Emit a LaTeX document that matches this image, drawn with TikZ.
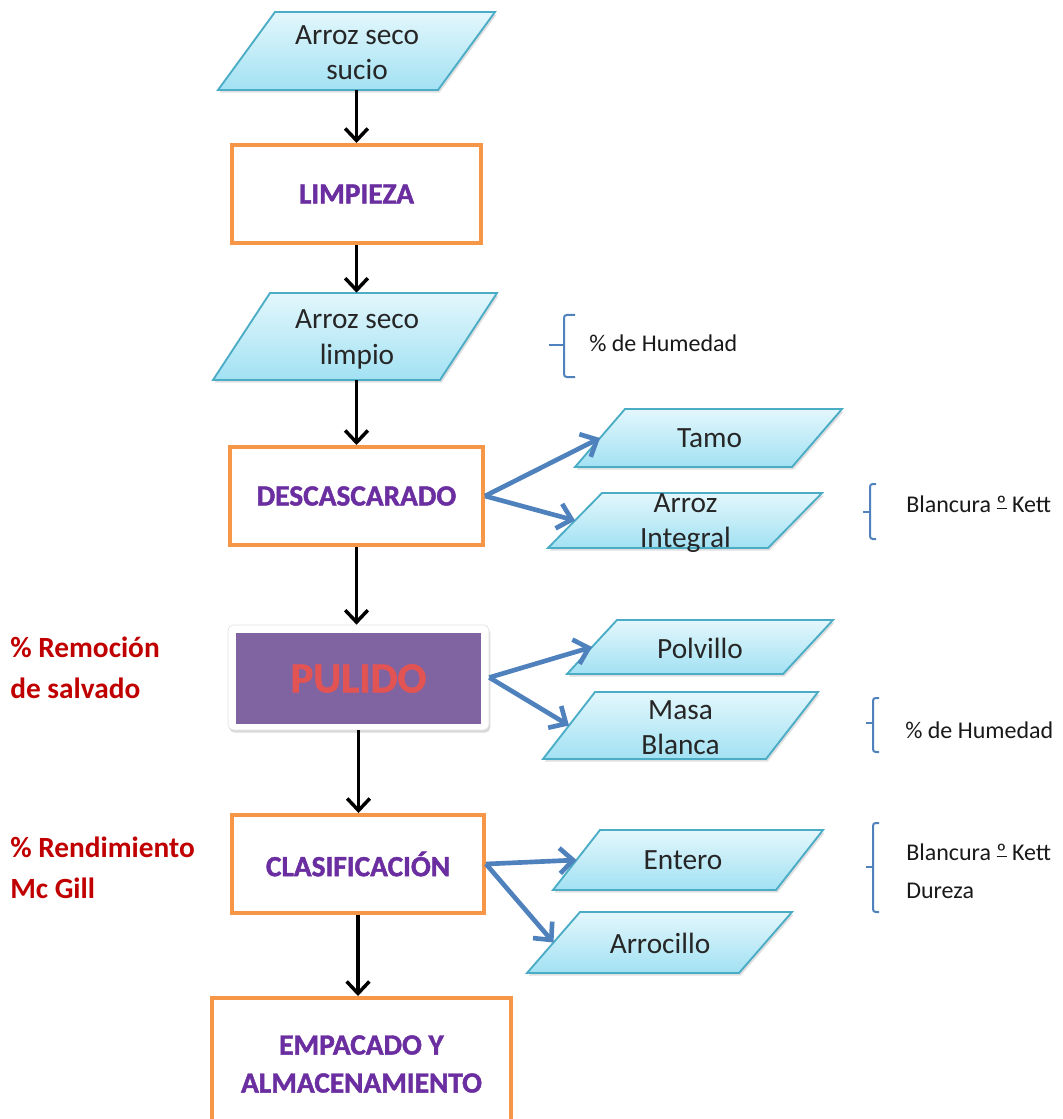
\documentclass[tikz,border=0pt]{standalone}
\usepackage{fontspec}
\setmainfont{Carlito}
\newfontfamily\titlefont{Carlito}[BoldFeatures={FakeBold=1.5}]
\usetikzlibrary{arrows.meta,shadows}
\definecolor{parab}{HTML}{4BACC6}
\definecolor{paratop}{HTML}{E3F7FC}
\definecolor{parabot}{HTML}{A2E1F3}
\definecolor{orangeB}{HTML}{F79646}
\definecolor{blueA}{HTML}{4F81BD}
\definecolor{purpT}{HTML}{6A2EA0}
\definecolor{purpF}{HTML}{8064A2}
\definecolor{redT}{HTML}{C00000}
\definecolor{pulR}{HTML}{E25454}
% ordinal indicator with underline, as in Calibri
\newcommand\ordo{\setbox0\hbox{º}\ooalign{\copy0\cr\raisebox{0.12em}{\rule{\wd0}{0.055em}}}}
% #1 name, #2 cx, #3 cy, #4 total width, #5 height, #6 slant offset (pixels)
\newcommand\paraNode[6]{%
  \path[parashape] ({#2-#4/2},{#3+#5/2}) -- ({#2+#4/2-#6},{#3+#5/2})
     -- ({#2+#4/2},{#3-#5/2}) -- ({#2-#4/2+#6},{#3-#5/2}) -- cycle;
  \node[inner sep=0pt, minimum width={(#4-#6)*0.75pt}, minimum height={#5*0.75pt}] (#1) at (#2,#3) {};
  \coordinate (#1-l) at ({#2-#4/2+#6/2},#3);
}
\begin{document}
\begin{tikzpicture}[x=0.75pt,y=-0.75pt,
  parashape/.style={draw=parab, line width=1.4pt, top color=paratop, bottom color=parabot,
    drop shadow={opacity=0.25, shadow xshift=1.2pt, shadow yshift=-2pt}},
  ptext/.style={font=\fontsize{22}{26.4}\selectfont, align=center, inner sep=0pt, text=black!85},
  proc/.style={rectangle, draw=orangeB, line width=3pt, fill=white, align=center,
    font=\fontsize{22}{28.5}\selectfont\titlefont\bfseries, text=purpT},
  barrow/.style={line width=2.6pt, -{Straight Barb[length=9pt,width=17pt]}},
  blarrow/.style={draw=blueA, line width=3.5pt, -{Straight Barb[length=10pt,width=19pt]}},
  note/.style={font=\fontsize{18}{28.5}\selectfont, anchor=west, align=left, inner sep=0pt, text=black!90},
  rednote/.style={font=\fontsize{22}{31}\selectfont\bfseries, text=redT, anchor=west, align=left, inner sep=0pt},
  bracestyle/.style={draw=blueA, line width=1.5pt, rounded corners=2pt}
]
\useasboundingbox (0,0) rectangle (1062,1119);
\clip (0,0) rectangle (1062,1119);

% main column
\paraNode{sucio}{356.5}{51}{277}{78}{57}
\node[ptext] (sucioT) at (357,52.5) {Arroz seco\\sucio};

\node[proc, minimum width=249*0.75pt, minimum height=98*0.75pt] (limpieza) at (356.5,194) {LIMPIEZA};

\paraNode{limpio}{355}{336.5}{284}{87}{57}
\node[ptext] (limpioT) at (357,339.5) {Arroz seco\\limpio};

\node[proc, minimum width=253*0.75pt, minimum height=98*0.75pt] (desc) at (356.5,496) {DESCASCARADO};

\node[rectangle, fill=white, draw=black!12, line width=0.5pt, rounded corners=4pt,
  minimum width=261*0.75pt, minimum height=105*0.75pt,
  drop shadow={opacity=0.3, shadow xshift=1pt, shadow yshift=-2pt}] (pulidoF) at (358.5,677.5) {};
\node[rectangle, fill=purpF, minimum width=245*0.75pt, minimum height=91*0.75pt,
  font=\fontsize{32}{38}\selectfont\titlefont\bfseries, text=pulR] (pulido) at (358.5,678.5) {PULIDO};

\node[proc, minimum width=252*0.75pt, minimum height=98*0.75pt] (clasif) at (358,864) {CLASIFICACIÓN};

\node[proc, minimum width=299*0.75pt, minimum height=132*0.75pt] (empacado) at (361.5,1064) {EMPACADO Y\\ALMACENAMIENTO};

% side outputs
\paraNode{tamo}{708.5}{438}{267}{58}{50}
\node[ptext] (tamoT) at (709.5,438) {Tamo};

\paraNode{integral}{685}{520.5}{274}{55}{54}
\node[ptext] (integralT) at (685.5,523.5) {Arroz\\Integral};

\paraNode{polvillo}{700}{647}{266}{54}{50}
\node[ptext] (polvilloT) at (700,648) {Polvillo};

\paraNode{masa}{680.5}{725.5}{275}{67}{52}
\node[ptext] (masaT) at (680.5,727.5) {Masa\\Blanca};

\paraNode{entero}{688}{860}{270}{60}{47}
\node[ptext] (enteroT) at (683,860) {Entero};

\paraNode{arrocillo}{659.5}{942.5}{265}{61}{53}
\node[ptext] (arrocilloT) at (660,943) {Arrocillo};

% black arrows
\draw[barrow] (sucio.south) -- (limpieza.north);
\draw[barrow] (limpieza.south) -- (limpieza.south |- limpio.north);
\draw[barrow] (limpio.south -| desc.north) -- (desc.north);
\draw[barrow] (desc.south) -- (desc.south |- pulidoF.north);
\draw[barrow] (pulidoF.south) -- (pulidoF.south |- clasif.north);
\draw[barrow] (clasif.south) -- (clasif.south |- empacado.north);

% blue arrows
\draw[blarrow] (desc.east) -- (tamo-l);
\draw[blarrow] (desc.east) -- (integral-l);
\draw[blarrow] (pulidoF.east) -- (polvillo-l);
\draw[blarrow] (pulidoF.east) -- (masa-l);
\draw[blarrow] (clasif.east) -- (entero-l);
\draw[blarrow] (clasif.east) -- (arrocillo-l);

% braces
\draw[bracestyle] (575,315) -- (564,315) -- (564,377) -- (575,377);
\draw[bracestyle] (564,345) -- (549,345);
\draw[bracestyle] (876,484) -- (870,484) -- (870,539) -- (876,539);
\draw[bracestyle] (870,512) -- (863,512);
\draw[bracestyle] (879,698) -- (873,698) -- (873,752) -- (879,752);
\draw[bracestyle] (873,723) -- (866,723);
\draw[bracestyle] (879,823) -- (873,823) -- (873,912) -- (879,912);
\draw[bracestyle] (873,867) -- (866,867);

% notes
\node[note] (hum1) at (589,343) {\% de Humedad};
\node[note] (blan1) at (906,504) {Blancura \ordo{} Kett};
\node[note] (hum2) at (905,730) {\% de Humedad};
\node[note] (blan2) at (906,871) {Blancura \ordo{} Kett\\Dureza};

\node[rednote] (remo) at (10,668) {\% Remoción\\de salvado};
\node[rednote] (rend) at (10,868) {\% Rendimiento\\Mc Gill};
\end{tikzpicture}
\end{document}
